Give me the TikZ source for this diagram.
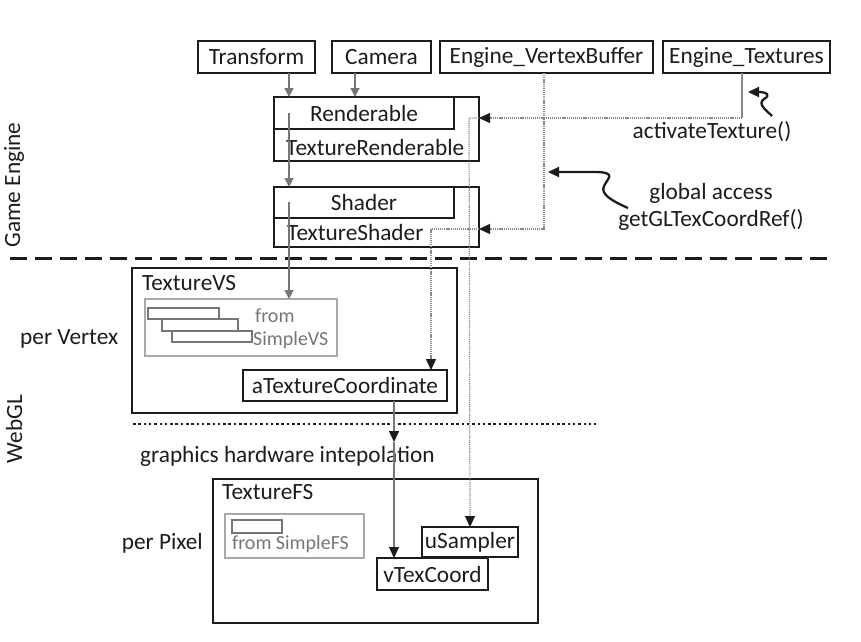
\documentclass[tikz,border=0pt]{standalone}
\usepackage{fontspec}
\setmainfont{Carlito}
\usetikzlibrary{arrows.meta,calc}
\definecolor{ink}{HTML}{1C1C1C}
\definecolor{wire}{HTML}{767676}
\definecolor{dotwire}{HTML}{8A8A8A}
\definecolor{faint}{HTML}{A8A8A8}
\begin{document}
\begin{tikzpicture}[x=1pt,y=-1pt,
  every node/.style={text=ink,font=\fontsize{23.3}{27}\selectfont},
  boxbase/.style={draw=ink,inner sep=0pt,outer sep=0pt,rectangle},
  thickbox/.style={boxbase,line width=2.6pt},
  thinbox/.style={boxbase,line width=1.5pt},
  ghostbox/.style={draw=faint,line width=1.4pt,inner sep=0pt,outer sep=0pt},
  lbl/.style={inner sep=0pt},
  ghosttext/.style={inner sep=0pt,text=wire,font=\fontsize{20}{23}\selectfont},
  greyarrow/.style={draw=wire,line width=1.5pt,-{Triangle[length=9pt,width=9pt,color=wire]}},
  dotarrow/.style={draw=dotwire,line width=1.2pt,dash pattern=on 1.2pt off 0.9pt,
    -{Triangle[length=11pt,width=10pt,color=ink]}},
  plainline/.style={draw=dotwire,line width=1.3pt},
  solidarrow/.style={draw=wire,line width=1.3pt,-{Triangle[length=11pt,width=10pt,color=ink]}},
  curly/.style={draw=ink,line width=2.3pt,-{Triangle[length=11pt,width=10pt,color=ink]}},
]
\useasboundingbox (0,0) rectangle (861,641);

% ---- engine side objects ----
\node[thickbox,minimum width=117,minimum height=32] (tf) at (256.5,57) {Transform};
\node[thickbox,minimum width=99,minimum height=32] (cam) at (381.5,57) {Camera};
\node[thickbox,minimum width=213,minimum height=32] (evb) at (546.5,57) {Engine\_VertexBuffer};
\node[thickbox,minimum width=167,minimum height=32] (etx) at (746.5,57) {Engine\_Textures};

\node[thickbox,minimum width=205,minimum height=64] (trend) at (376.5,129) {};
\node[thickbox,minimum width=180,minimum height=32] (rend) at (364,113) {Renderable};
\node[lbl,anchor=west] (trendlbl) at (286,147) {TextureRenderable};

\node[thickbox,minimum width=205,minimum height=60] (tshd) at (376.5,217) {};
\node[thickbox,minimum width=180,minimum height=31] (shd) at (364,202.5) {Shader};
\node[lbl,anchor=west] (tshdlbl) at (287,232) {TextureShader};

% ---- side labels ----
\node[lbl,rotate=90] (ge) at (14,185) {Game Engine};
\node[lbl,rotate=90] (wgl) at (14,429) {WebGL};
\node[lbl,anchor=west] (pv) at (20,339) {per Vertex};
\node[lbl,anchor=east] (pp) at (203,543) {per Pixel};
\node[lbl,anchor=west] (ghi) at (140,456) {graphics hardware intepolation};
\node[lbl] (act) at (712,132) {activateTexture()};
\node[lbl] (glob) at (711,193) {global access};
\node[lbl] (getgl) at (711,220) {getGLTexCoordRef()};

% ---- separators ----
\draw[line width=3pt,dash pattern=on 17pt off 8pt,draw=ink] (10,258) -- (832,258);
\draw[line width=2.6pt,dash pattern=on 2.5pt off 2.8pt,draw=ink] (133,424) -- (596,424);

% ---- vertex shader ----
\node[thickbox,minimum width=325,minimum height=145] (tvs) at (294.5,340.5) {};
\node[lbl,anchor=west] (tvslbl) at (142,283) {TextureVS};
\node[ghostbox,minimum width=192,minimum height=57] (svs) at (241,327.5) {};
\draw[draw=wire,line width=1.3pt] (148,308) rectangle (219,319)
  (162,319) rectangle (238,331) (172,331) rectangle (252,342);
\node[ghosttext,anchor=west] (svs1) at (255,316) {from};
\node[ghosttext,anchor=west] (svs2) at (253,340) {SimpleVS};
\node[thinbox,minimum width=204,minimum height=31] (atc) at (345,385.5) {aTextureCoordinate};

% ---- fragment shader ----
\node[thickbox,minimum width=325,minimum height=144] (tfs) at (375.5,551) {};
\node[lbl,anchor=west] (tfslbl) at (222,492) {TextureFS};
\node[ghostbox,minimum width=139,minimum height=44] (sfs) at (294.5,536) {};
\draw[draw=wire,line width=1.3pt] (232,520) rectangle (282,533);
\node[ghosttext,anchor=west] (sfs1) at (232,544) {from SimpleFS};
\node[thinbox,minimum width=96,minimum height=30] (usam) at (470,542) {uSampler};
\node[thinbox,minimum width=111,minimum height=32] (vtc) at (432.5,574) {vTexCoord};

% ---- column guides for connectors ----
\coordinate (colA) at (289,0);
\coordinate (colB) at (355,0);
\coordinate (colC) at (394,0);
\coordinate (colD) at (431,0);
\coordinate (colE) at (469,0);
\coordinate (colF) at (544,0);
\coordinate (colG) at (742,0);
\coordinate (rowR) at (0,118);
\coordinate (rowS) at (0,229);
\coordinate (rowI) at (0,442);

% ---- inheritance chain ----
\draw[greyarrow] (tf.south -| colA) -- (trend.north -| colA);
\draw[greyarrow] (cam.south -| colB) -- (trend.north -| colB);
\draw[greyarrow] (colA |- 0,113) -- (tshd.north -| colA);
\draw[greyarrow] (colA |- 0,202) -- (svs.north -| colA);

% ---- texture access ----
\draw[plainline] (etx.south -| colG) -- (colG |- rowR) coordinate (etbend);
\draw[dotarrow] (etbend) -- (trend.east |- rowR);
\draw[dotarrow] (trend.east |- rowR) -| (colE |- rowR) -- (usam.north);

% ---- texture coordinates ----
\draw[dotarrow] (evb.south -| colF) |- (tshd.east |- rowS);
\draw[dotarrow] (tshd.east |- rowS) -- (colD |- rowS) -- (atc.north -| colD);
\draw[solidarrow] (atc.south -| colC) -- (colC |- rowI) coordinate (interp);
\draw[solidarrow] (interp) -- (vtc.north -| colC);

% ---- annotation pointers ----
\draw[curly] (772,116) .. controls (766,110) and (757,104) .. (764,99)
  .. controls (771,95) and (767,92) .. (748,92);
\draw[curly] (628,208) .. controls (612,201) and (600,194) .. (604,186)
  .. controls (608,178) and (616,173) .. (598,172) -- (548,172);
\end{tikzpicture}
\end{document}
